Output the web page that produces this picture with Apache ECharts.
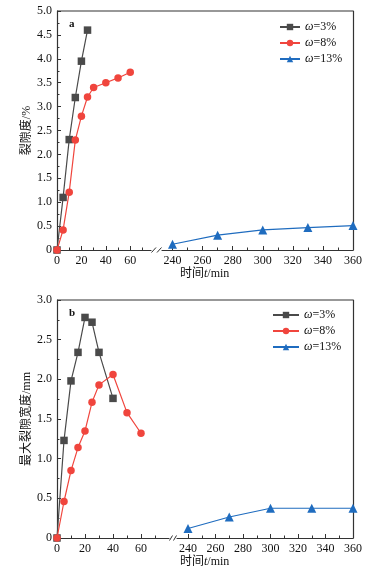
<!DOCTYPE html>
<html><head><meta charset="utf-8">
<script src="https://cdn.jsdelivr.net/npm/echarts@6/dist/echarts.min.js"></script>
<style>html,body{margin:0;padding:0;background:#fff}#c{width:372px;height:575px}</style>
</head><body><div id="c"></div>
<script>
// ---- data ----
const seriesNames = ['ω=3%', 'ω=8%', 'ω=13%'];
const xTicksLeft = [0, 20, 40, 60];
const xMinorLeft = [10, 30, 50, 70];
const xTicksRight = [240, 260, 280, 300, 320, 340, 360];
const xMinorRight = [250, 270, 290, 310, 330, 350];
// panel a: fracture degree (%)
const tA3 = [0, 5, 10, 15, 20, 25];
const vA3 = [0, 1.1, 2.31, 3.19, 3.95, 4.6];
const tA8 = [0, 5, 10, 15, 20, 25, 30, 40, 50, 60];
const vA8 = [0, 0.42, 1.21, 2.3, 2.8, 3.2, 3.4, 3.5, 3.6, 3.72];
const tA13 = [240, 270, 300, 330, 360];
const vA13 = [0.12, 0.31, 0.42, 0.47, 0.51];
// panel b: max crack width (mm)
const tB3 = [0, 5, 10, 15, 20, 25, 30, 40];
const vB3 = [0, 1.23, 1.98, 2.34, 2.78, 2.72, 2.34, 1.76];
const tB8 = [0, 5, 10, 15, 20, 25, 30, 40, 50, 60];
const vB8 = [0, 0.46, 0.85, 1.14, 1.35, 1.71, 1.93, 2.06, 1.58, 1.32];
const tB13 = [240, 270, 300, 330, 360];
const vB13 = [0.12, 0.265, 0.375, 0.375, 0.375];

const colors = ['#4a4a4a', '#f0453d', '#1f6cbf'];
const symbols = ['rect', 'circle', 'triangle'];
const FONT = "'Liberation Serif', 'Noto Sans CJK SC', serif";
const AX = '#333';
const TXT = '#111';

const zip = (a, b) => a.map((x, i) => [x, b[i]]);

const panels = [
  {top: 11, height: 239, leftW: 94, leftMax: 77, rL: 162, rW: 191, rMin: 233, yMax: 5, label: 'a',
   name: '裂隙度/%', data: [zip(tA3, vA3), zip(tA8, vA8), zip(tA13, vA13)], legendLeft: 279, legendTop: 21, iw: 20},
  {top: 300, height: 238, leftW: 112, leftMax: 80, rL: 177, rW: 176, rMin: 232, yMax: 3, label: 'b',
   name: '最大裂隙宽度/mm', data: [zip(tB3, vB3), zip(tB8, vB8), zip(tB13, vB13)], legendLeft: 272, legendTop: 309, iw: 26}
];

const grid = [], xAxis = [], yAxis = [], series = [], legend = [], title = [], graphic = [];
const lbl = {fontFamily: FONT, fontSize: 12, color: TXT};

panels.forEach((p, pi) => {
  const gL = grid.length;
  grid.push({left: 57, top: p.top, width: p.leftW, height: p.height});
  grid.push({left: p.rL, top: p.top, width: p.rW, height: p.height});
  // overlapping grids carrying only the minor x ticks
  grid.push({left: 57, top: p.top, width: p.leftW, height: p.height});
  grid.push({left: p.rL, top: p.top, width: p.rW, height: p.height});
  const gR = gL + 1;
  const mkX = (gi, min, max, ticks) => {
    xAxis.push({type: 'value', gridIndex: gi, min, max, position: 'bottom',
      axisLine: {show: true, onZero: false, lineStyle: {color: AX, width: 1.2}},
      axisTick: {show: true, inside: true, length: 4, customValues: ticks, lineStyle: {color: AX}},
      axisLabel: {show: true, customValues: ticks, margin: 5, ...lbl},
      splitLine: {show: false}});
    return xAxis.length - 1;
  };
  const mkMinor = (gi, min, max, minor) => {
    xAxis.push({type: 'value', gridIndex: gi, min, max, position: 'bottom',
      axisLine: {show: false, onZero: false},
      axisTick: {show: true, inside: true, length: 2.5, customValues: minor, lineStyle: {color: AX}},
      axisLabel: {show: false}, splitLine: {show: false}});
    yAxis.push({type: 'value', gridIndex: gi, min: 0, max: p.yMax, show: false});
  };
  const xl = mkX(gL, 0, p.leftMax, xTicksLeft);
  const xr = mkX(gR, p.rMin, 360, xTicksRight);
  const yl = yAxis.length;
  yAxis.push({type: 'value', gridIndex: gL, min: 0, max: p.yMax, interval: 0.5,
    name: p.name, nameLocation: 'middle', nameGap: 18, nameRotate: 90,
    nameTextStyle: {fontFamily: FONT, fontSize: 12, color: TXT},
    axisLine: {show: true, onZero: false, lineStyle: {color: AX, width: 1.2}},
    axisTick: {show: true, inside: true, length: 4, lineStyle: {color: AX}},
    minorTick: {show: true, splitNumber: 2, length: 2.5, lineStyle: {color: AX}},
    axisLabel: {margin: 5, ...lbl, formatter: v => v === 0 ? '0' : v.toFixed(1)},
    splitLine: {show: false}});
  yAxis.push({type: 'value', gridIndex: gR, min: 0, max: p.yMax, interval: 0.5, position: 'right',
    axisLine: {show: true, onZero: false, lineStyle: {color: AX, width: 1.2}},
    axisTick: {show: false}, axisLabel: {show: false}, splitLine: {show: false}});
  const yr = yl + 1;
  mkMinor(gL + 2, 0, p.leftMax, xMinorLeft);
  mkMinor(gL + 3, p.rMin, 360, xMinorRight);
  p.data.forEach((d, si) => {
    const right = si === 2;
    series.push({type: 'line', name: seriesNames[si], data: d,
      xAxisIndex: right ? xr : xl, yAxisIndex: right ? yr : yl,
      symbol: symbols[si], symbolSize: si === 2 ? 9 : 7.5, z: si === 1 ? 4 : 3,
      itemStyle: {color: colors[si]}, lineStyle: {color: colors[si], width: 1.2}});
  });
  legend.push({orient: 'vertical', left: p.legendLeft, top: p.legendTop, itemWidth: p.iw, itemHeight: 8,
    itemGap: 4, padding: 0, data: seriesNames,
    formatter: n => '{w|ω}{n|' + n.slice(1) + '}',
    textStyle: {rich: {w: {fontFamily: FONT, fontStyle: 'italic', fontSize: 12, color: TXT},
                       n: {fontFamily: FONT, fontSize: 12, color: TXT}}}});
  title.push({text: p.label, left: 64, top: p.top + 3,
    textStyle: {fontFamily: FONT, fontSize: 11, fontWeight: 'bold', color: TXT}});
  title.push({text: '{a|时间}{i|t}{a|/min}', left: 180, top: p.top + p.height + 18, padding: 0,
    textStyle: {fontWeight: 'normal', rich: {a: {fontFamily: FONT, fontSize: 12, fontWeight: 'normal', color: TXT},
                       i: {fontFamily: FONT, fontSize: 12, fontStyle: 'italic', fontWeight: 'normal', color: TXT}}}});
  // top border across full width and break marks on the bottom axis
  const gx0 = 57 + p.leftW, gx1 = p.rL, yb = p.top + p.height;
  graphic.push({type: 'line', shape: {x1: 57, y1: p.top, x2: p.rL + p.rW, y2: p.top}, style: {stroke: AX, lineWidth: 1.2}});
  const m = (gx1 - gx0) / 2;
  graphic.push({type: 'line', shape: {x1: gx0 + 0.5, y1: yb + 2.5, x2: gx0 + m - 0.5, y2: yb - 2.5}, style: {stroke: AX, lineWidth: 1}});
  graphic.push({type: 'line', shape: {x1: gx0 + m + 0.5, y1: yb + 2.5, x2: gx1 - 0.5, y2: yb - 2.5}, style: {stroke: AX, lineWidth: 1}});
});

const chart = echarts.init(document.getElementById('c'), null, {renderer: 'canvas'});
chart.setOption({backgroundColor: '#fff', animation: false, grid, xAxis, yAxis, series, legend, title, graphic});
</script></body></html>
